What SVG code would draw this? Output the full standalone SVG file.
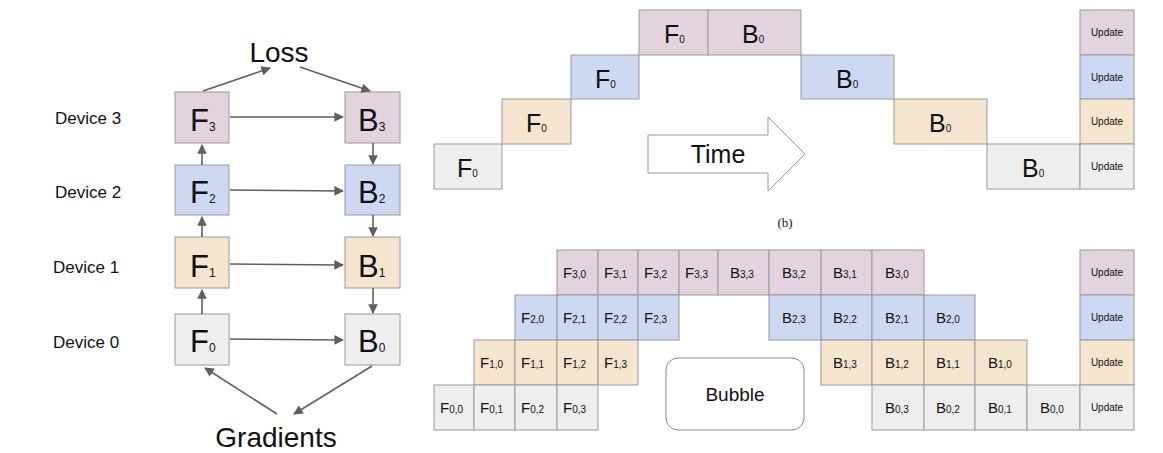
<svg xmlns="http://www.w3.org/2000/svg" width="1163" height="453" viewBox="0 0 1163 453">
<style>
text{font-family:"Liberation Sans",Arial,sans-serif;fill:#111}
rect.c{stroke:#9a9a9a;stroke-width:1}
.p{fill:#e2d3de}.b{fill:#cdd8f3}.o{fill:#f5e5cf}.g{fill:#eeeeee}
.L{font-size:31px}.Ls{font-size:12px}
.T{font-size:25px}.Ts{font-size:10px}
.S{font-size:15px}.Ss{font-size:10px}
.u{font-size:10px;text-anchor:middle}
.con line{stroke:#5f5f5f;stroke-width:1.6;marker-end:url(#ah)}
</style>
<defs><marker id="ah" viewBox="0 0 10 10" refX="9" refY="5" markerWidth="6" markerHeight="6" orient="auto"><path d="M0,0L10,5L0,10z" fill="#5f5f5f"/></marker></defs>
<rect width="1163" height="453" fill="#fff"/>
<g id="panel-a">
<text x="279" y="62" font-size="28" text-anchor="middle">Loss</text>
<text x="276" y="447" font-size="28" text-anchor="middle">Gradients</text>
<text x="55" y="124" font-size="17">Device 3</text>
<text x="55" y="198" font-size="17">Device 2</text>
<text x="53" y="273" font-size="17">Device 1</text>
<text x="53" y="348" font-size="17">Device 0</text>
<g id="F3"><rect class="c p" x="175" y="92" width="54" height="51"/><text class="L" x="190" y="131">F<tspan class="Ls">3</tspan></text></g>
<g id="F2"><rect class="c b" x="175" y="165" width="54" height="50"/><text class="L" x="190" y="203">F<tspan class="Ls">2</tspan></text></g>
<g id="F1"><rect class="c o" x="175" y="237" width="54" height="51"/><text class="L" x="190" y="277">F<tspan class="Ls">1</tspan></text></g>
<g id="F0"><rect class="c g" x="175" y="314" width="54" height="51"/><text class="L" x="190" y="352">F<tspan class="Ls">0</tspan></text></g>
<g id="B3"><rect class="c p" x="345" y="92" width="55" height="51"/><text class="L" x="358" y="131">B<tspan class="Ls">3</tspan></text></g>
<g id="B2"><rect class="c b" x="345" y="165" width="55" height="50"/><text class="L" x="358" y="203">B<tspan class="Ls">2</tspan></text></g>
<g id="B1"><rect class="c o" x="345" y="237" width="55" height="51"/><text class="L" x="358" y="277">B<tspan class="Ls">1</tspan></text></g>
<g id="B0"><rect class="c g" x="345" y="314" width="55" height="51"/><text class="L" x="358" y="352">B<tspan class="Ls">0</tspan></text></g>
</g>
<g id="connectors" class="con">
<line x1="203" y1="91" x2="270" y2="68"/>
<line x1="300" y1="67" x2="370" y2="91"/>
<line x1="230" y1="117" x2="343" y2="117"/>
<line x1="230" y1="190" x2="343" y2="191"/>
<line x1="230" y1="264" x2="343" y2="265"/>
<line x1="230" y1="339" x2="343" y2="340"/>
<line x1="202" y1="314" x2="202" y2="290"/>
<line x1="202" y1="237" x2="202" y2="217"/>
<line x1="202" y1="165" x2="202" y2="145"/>
<line x1="373" y1="143" x2="373" y2="164"/>
<line x1="373" y1="215" x2="373" y2="236"/>
<line x1="373" y1="288" x2="373" y2="313"/>
<line x1="277" y1="414" x2="205" y2="368"/>
<line x1="372" y1="366" x2="294" y2="414"/>
</g>
<g id="panel-b-top">
<rect class="c g" x="434" y="144" width="68" height="45"/><text class="T" x="457" y="177">F<tspan class="Ts">0</tspan></text>
<rect class="c o" x="502" y="99" width="69" height="45"/><text class="T" x="526" y="132">F<tspan class="Ts">0</tspan></text>
<rect class="c b" x="571" y="55" width="68" height="44"/><text class="T" x="595" y="88">F<tspan class="Ts">0</tspan></text>
<rect class="c p" x="639" y="10" width="69" height="45"/><text class="T" x="664" y="43">F<tspan class="Ts">0</tspan></text>
<rect class="c p" x="708" y="10" width="93" height="45"/><text class="T" x="742" y="43">B<tspan class="Ts">0</tspan></text>
<rect class="c b" x="801" y="55" width="93" height="44"/><text class="T" x="836" y="88">B<tspan class="Ts">0</tspan></text>
<rect class="c o" x="894" y="99" width="93" height="45"/><text class="T" x="929" y="132">B<tspan class="Ts">0</tspan></text>
<rect class="c g" x="987" y="144" width="93" height="45"/><text class="T" x="1022" y="177">B<tspan class="Ts">0</tspan></text>
<rect class="c p" x="1080" y="10" width="54" height="45"/><text class="u" x="1107" y="36">Update</text>
<rect class="c b" x="1080" y="55" width="54" height="44"/><text class="u" x="1107" y="81">Update</text>
<rect class="c o" x="1080" y="99" width="54" height="45"/><text class="u" x="1107" y="125">Update</text>
<rect class="c g" x="1080" y="144" width="54" height="45"/><text class="u" x="1107" y="170">Update</text>
<path d="M648,135H768V117L805,154L768,191V173H648Z" fill="#fff" stroke="#999" stroke-width="1"/>
<text x="718" y="163" font-size="25" text-anchor="middle">Time</text>
</g>
<text x="785" y="227" font-size="13" text-anchor="middle" style="font-family:'Liberation Serif',serif">(b)</text>
<g id="panel-b-bottom">
<rect x="666" y="358" width="138" height="72" rx="12" fill="#fff" stroke="#888"/>
<text x="735" y="401" font-size="19" text-anchor="middle">Bubble</text>
<g class="S">
<rect class="c p" x="557" y="250" width="41" height="45"/><text class="S" x="563" y="278">F<tspan class="Ss">3,0</tspan></text>
<rect class="c p" x="598" y="250" width="40" height="45"/><text class="S" x="604" y="278">F<tspan class="Ss">3,1</tspan></text>
<rect class="c p" x="638" y="250" width="41" height="45"/><text class="S" x="644" y="278">F<tspan class="Ss">3,2</tspan></text>
<rect class="c p" x="679" y="250" width="39" height="45"/><text class="S" x="685" y="278">F<tspan class="Ss">3,3</tspan></text>
<rect class="c p" x="718" y="250" width="51" height="45"/><text class="S" x="730" y="278">B<tspan class="Ss">3,3</tspan></text>
<rect class="c p" x="769" y="250" width="52" height="45"/><text class="S" x="782" y="278">B<tspan class="Ss">3,2</tspan></text>
<rect class="c p" x="821" y="250" width="51" height="45"/><text class="S" x="833" y="278">B<tspan class="Ss">3,1</tspan></text>
<rect class="c p" x="872" y="250" width="52" height="45"/><text class="S" x="885" y="278">B<tspan class="Ss">3,0</tspan></text>
<rect class="c b" x="515" y="295" width="42" height="45"/><text class="S" x="521" y="323">F<tspan class="Ss">2,0</tspan></text>
<rect class="c b" x="557" y="295" width="41" height="45"/><text class="S" x="563" y="323">F<tspan class="Ss">2,1</tspan></text>
<rect class="c b" x="598" y="295" width="40" height="45"/><text class="S" x="604" y="323">F<tspan class="Ss">2,2</tspan></text>
<rect class="c b" x="638" y="295" width="41" height="45"/><text class="S" x="644" y="323">F<tspan class="Ss">2,3</tspan></text>
<rect class="c b" x="769" y="295" width="52" height="45"/><text class="S" x="782" y="323">B<tspan class="Ss">2,3</tspan></text>
<rect class="c b" x="821" y="295" width="51" height="45"/><text class="S" x="833" y="323">B<tspan class="Ss">2,2</tspan></text>
<rect class="c b" x="872" y="295" width="52" height="45"/><text class="S" x="885" y="323">B<tspan class="Ss">2,1</tspan></text>
<rect class="c b" x="924" y="295" width="51" height="45"/><text class="S" x="936" y="323">B<tspan class="Ss">2,0</tspan></text>
<rect class="c o" x="474" y="340" width="41" height="45"/><text class="S" x="480" y="368">F<tspan class="Ss">1,0</tspan></text>
<rect class="c o" x="515" y="340" width="42" height="45"/><text class="S" x="521" y="368">F<tspan class="Ss">1,1</tspan></text>
<rect class="c o" x="557" y="340" width="41" height="45"/><text class="S" x="563" y="368">F<tspan class="Ss">1,2</tspan></text>
<rect class="c o" x="598" y="340" width="40" height="45"/><text class="S" x="604" y="368">F<tspan class="Ss">1,3</tspan></text>
<rect class="c o" x="821" y="340" width="51" height="45"/><text class="S" x="833" y="368">B<tspan class="Ss">1,3</tspan></text>
<rect class="c o" x="872" y="340" width="52" height="45"/><text class="S" x="885" y="368">B<tspan class="Ss">1,2</tspan></text>
<rect class="c o" x="924" y="340" width="51" height="45"/><text class="S" x="936" y="368">B<tspan class="Ss">1,1</tspan></text>
<rect class="c o" x="975" y="340" width="52" height="45"/><text class="S" x="988" y="368">B<tspan class="Ss">1,0</tspan></text>
<rect class="c g" x="434" y="385" width="40" height="45"/><text class="S" x="440" y="413">F<tspan class="Ss">0,0</tspan></text>
<rect class="c g" x="474" y="385" width="41" height="45"/><text class="S" x="480" y="413">F<tspan class="Ss">0,1</tspan></text>
<rect class="c g" x="515" y="385" width="42" height="45"/><text class="S" x="521" y="413">F<tspan class="Ss">0,2</tspan></text>
<rect class="c g" x="557" y="385" width="41" height="45"/><text class="S" x="563" y="413">F<tspan class="Ss">0,3</tspan></text>
<rect class="c g" x="872" y="385" width="52" height="45"/><text class="S" x="885" y="413">B<tspan class="Ss">0,3</tspan></text>
<rect class="c g" x="924" y="385" width="51" height="45"/><text class="S" x="936" y="413">B<tspan class="Ss">0,2</tspan></text>
<rect class="c g" x="975" y="385" width="52" height="45"/><text class="S" x="988" y="413">B<tspan class="Ss">0,1</tspan></text>
<rect class="c g" x="1027" y="385" width="53" height="45"/><text class="S" x="1040" y="413">B<tspan class="Ss">0,0</tspan></text>
</g>
<rect class="c p" x="1080" y="250" width="54" height="45"/><text class="u" x="1107" y="276">Update</text>
<rect class="c b" x="1080" y="295" width="54" height="45"/><text class="u" x="1107" y="321">Update</text>
<rect class="c o" x="1080" y="340" width="54" height="45"/><text class="u" x="1107" y="366">Update</text>
<rect class="c g" x="1080" y="385" width="54" height="45"/><text class="u" x="1107" y="411">Update</text>
</g>
</svg>
